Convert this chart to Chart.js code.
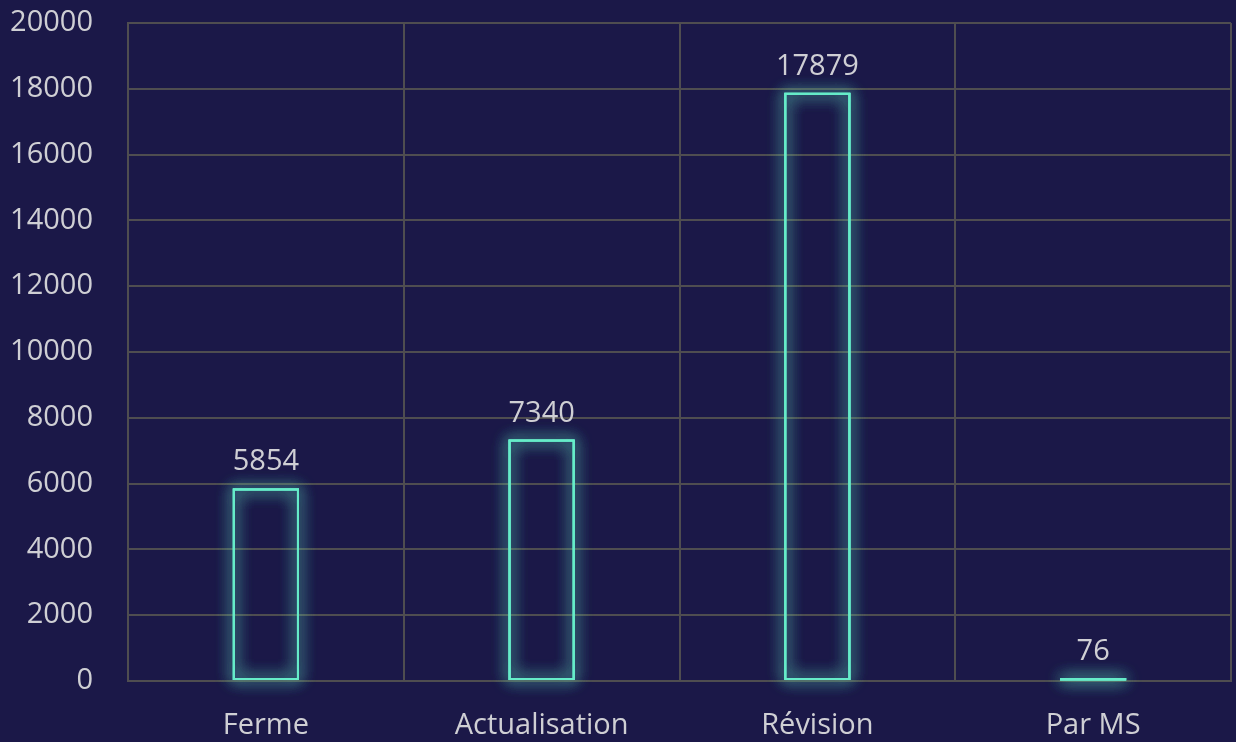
<!DOCTYPE html>
<html>
<head>
<meta charset="utf-8">
<script src="https://cdn.jsdelivr.net/npm/chart.js@4/dist/chart.umd.min.js"></script>
<style>
  html, body { margin: 0; padding: 0; background: #1b1848; }
  #wrap { width: 1236px; height: 742px; }
</style>
</head>
<body>
<div id="wrap"><canvas id="barChart"></canvas></div>
<script>
// Chart data
const categories = ["Ferme", "Actualisation", "Révision", "Par MS"]
const counts = [5854, 7340, 17879, 76]
const yTicks = [0, 2000, 4000, 6000, 8000, 10000, 12000, 14000, 16000, 18000, 20000]

const textColor = "#cfcfd4"
const gridColor = "#4f4d50"
const barColor = "#66ecc9"
const fontFamily = "'Open Sans', sans-serif"

// Glowing outline drawn over each bar element
const glowPlugin = {
  id: "glow",
  afterDatasetsDraw(chart) {
    const ctx = chart.ctx
    const meta = chart.getDatasetMeta(0)
    ctx.save()
    ctx.strokeStyle = barColor
    ctx.lineWidth = 2
    ctx.shadowColor = "rgba(102,236,201,0.8)"
    ctx.shadowBlur = 16
    meta.data.forEach((bar) => {
      const left = bar.x - bar.width / 2
      const top = Math.min(bar.y, bar.base)
      const h = Math.abs(bar.base - bar.y)
      for (let k = 0; k < 3; k++) {
        ctx.strokeRect(left + 1, top + 1, bar.width - 2, h - 2)
      }
    })
    ctx.restore()
  }
}

// Value labels above each bar
const valueLabels = {
  id: "valueLabels",
  afterDatasetsDraw(chart) {
    const ctx = chart.ctx
    const meta = chart.getDatasetMeta(0)
    ctx.save()
    ctx.font = "29px " + fontFamily
    ctx.fillStyle = textColor
    ctx.textAlign = "center"
    ctx.textBaseline = "alphabetic"
    meta.data.forEach((bar, i) => {
      ctx.fillText(String(counts[i]), bar.x, bar.y - 18)
    })
    ctx.restore()
  }
}

const ctx = document.getElementById("barChart").getContext("2d")
new Chart(ctx, {
  type: "bar",
  data: {
    labels: categories,
    datasets: [{
      data: counts,
      backgroundColor: "rgba(0,0,0,0)",
      borderColor: barColor,
      borderWidth: 2,
      borderSkipped: false,
      barPercentage: 0.3,
      categoryPercentage: 0.8
    }]
  },
  options: {
    responsive: true,
    maintainAspectRatio: false,
    animation: false,
    layout: { padding: { top: 0, right: 5, left: 0, bottom: 0 } },
    plugins: {
      legend: { display: false },
      tooltip: { enabled: false }
    },
    scales: {
      x: {
        grid: { color: gridColor, drawTicks: false, lineWidth: 2 },
        border: { color: gridColor, width: 2 },
        ticks: { color: textColor, font: { size: 29, family: fontFamily }, padding: 27 },
        afterFit(scale) { scale.height = 61 }
      },
      y: {
        min: 0,
        max: 20000,
        afterBuildTicks(scale) { scale.ticks = yTicks.map(v => ({ value: v })) },
        grid: { color: gridColor, drawTicks: false, lineWidth: 2 },
        border: { color: gridColor, width: 2 },
        ticks: {
          color: textColor,
          font: { size: 29, family: fontFamily },
          padding: 35,
          callback: (v) => String(v)
        },
        afterFit(scale) {
          scale.width = 128
          scale.paddingTop = 23
          scale.paddingBottom = 0
        }
      }
    }
  },
  plugins: [glowPlugin, valueLabels]
})
</script>
</body>
</html>
